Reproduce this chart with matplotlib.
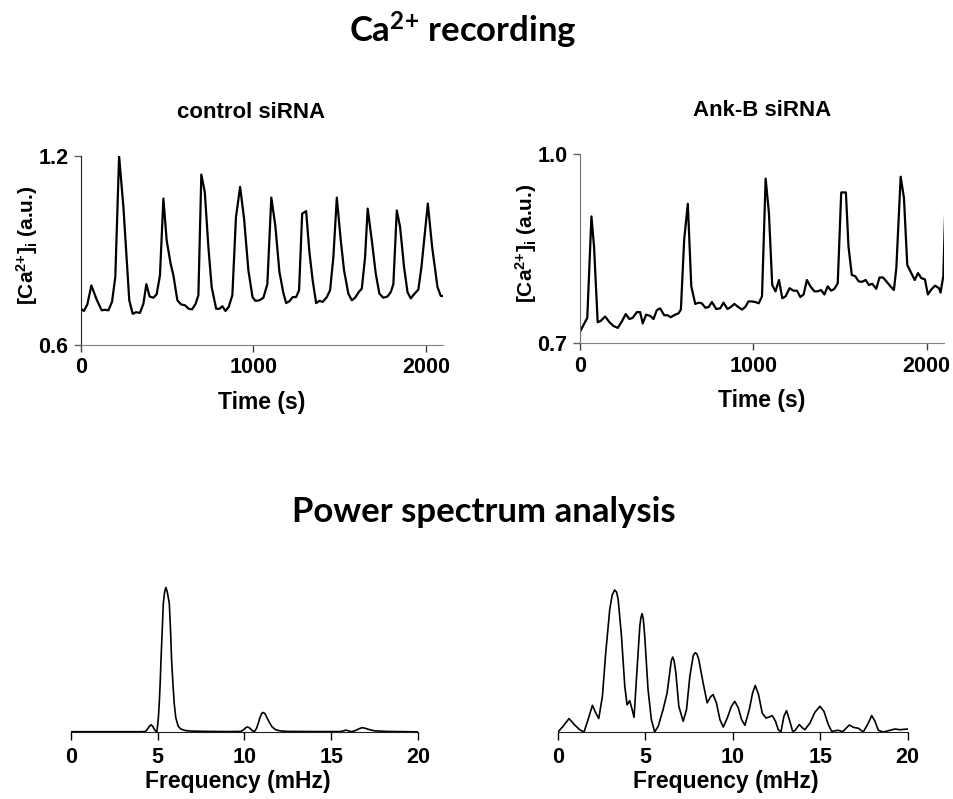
import numpy as np
import matplotlib
matplotlib.use('Agg')
import matplotlib.pyplot as plt

plt.rcParams['font.family'] = ['Liberation Sans', 'DejaVu Sans']
plt.rcParams['font.weight'] = 'bold'
plt.rcParams['mathtext.default'] = 'regular'

# control siRNA trace
ctrl_t = [0, 17, 37, 60, 91, 120, 139, 159, 180, 199, 221, 246, 280, 300, 319, 342, 362, 379, 398, 420,
          439, 458, 478, 497, 520, 536, 559, 580, 603, 625, 644, 665, 681, 698, 718, 739, 758, 784, 803, 820,
          838, 857, 878, 899, 923, 946, 971, 995, 1012, 1035, 1058, 1081, 1104, 1127, 1151, 1174, 1190, 1209,
          1228, 1248, 1265, 1283, 1306, 1325, 1344, 1364, 1383, 1402, 1426, 1445, 1464, 1484, 1507, 1526,
          1551, 1571, 1590, 1611, 1629, 1648, 1663, 1687, 1710, 1731, 1754, 1778, 1797, 1812, 1832, 1851,
          1874, 1894, 1913, 1932, 1957, 1975, 2012, 2037, 2068, 2087, 2103]
ctrl_ca = [0.715, 0.708, 0.729, 0.789, 0.744, 0.710, 0.712, 0.710, 0.737, 0.816, 1.200, 1.038, 0.742, 0.699,
           0.704, 0.702, 0.731, 0.793, 0.754, 0.750, 0.761, 0.821, 1.065, 0.932, 0.858, 0.821, 0.742, 0.729,
           0.726, 0.715, 0.713, 0.731, 0.758, 1.141, 1.086, 0.911, 0.784, 0.715, 0.715, 0.723, 0.708, 0.721,
           0.758, 1.006, 1.102, 1.001, 0.837, 0.752, 0.740, 0.742, 0.750, 0.793, 1.068, 0.980, 0.832, 0.765,
           0.733, 0.739, 0.752, 0.752, 0.774, 1.017, 1.025, 0.895, 0.805, 0.733, 0.740, 0.737, 0.752, 0.774,
           0.879, 1.068, 0.932, 0.837, 0.763, 0.742, 0.750, 0.768, 0.779, 0.879, 1.033, 0.932, 0.826, 0.763,
           0.750, 0.754, 0.768, 0.793, 1.027, 0.975, 0.848, 0.768, 0.748, 0.761, 0.776, 0.848, 1.049, 0.911,
           0.784, 0.756, 0.755]

# Ank-B siRNA trace
ank_t = [0, 42, 66, 81, 102, 119, 145, 170, 193, 218, 241, 264, 285, 304, 328, 347, 362, 381, 405, 424,
         443, 462, 486, 505, 524, 549, 568, 582, 601, 622, 642, 665, 684, 703, 723, 742, 761, 786, 809, 828,
         851, 870, 890, 909, 934, 953, 972, 990, 1012, 1031, 1050, 1071, 1090, 1109, 1128, 1148, 1167, 1186,
         1209, 1232, 1252, 1271, 1290, 1309, 1329, 1352, 1371, 1391, 1410, 1429, 1449, 1468, 1487, 1507,
         1534, 1549, 1568, 1588, 1607, 1626, 1648, 1667, 1686, 1709, 1728, 1748, 1767, 1788, 1811, 1825,
         1850, 1869, 1888, 1911, 1931, 1950, 1969, 1990, 2007, 2027, 2048, 2071, 2080, 2096, 2110]
ank_ca = [0.718, 0.740, 0.901, 0.853, 0.733, 0.735, 0.742, 0.733, 0.727, 0.724, 0.734, 0.746, 0.738, 0.740,
          0.749, 0.749, 0.731, 0.745, 0.743, 0.738, 0.752, 0.755, 0.744, 0.744, 0.741, 0.745, 0.747, 0.753,
          0.864, 0.921, 0.790, 0.762, 0.764, 0.763, 0.756, 0.757, 0.765, 0.754, 0.755, 0.764, 0.754, 0.757,
          0.762, 0.758, 0.753, 0.757, 0.766, 0.766, 0.765, 0.763, 0.774, 0.961, 0.906, 0.792, 0.782, 0.800,
          0.771, 0.774, 0.787, 0.783, 0.783, 0.773, 0.777, 0.800, 0.790, 0.782, 0.782, 0.784, 0.777, 0.790,
          0.783, 0.786, 0.795, 0.939, 0.939, 0.853, 0.808, 0.806, 0.798, 0.797, 0.800, 0.792, 0.794, 0.786,
          0.804, 0.804, 0.798, 0.791, 0.784, 0.819, 0.964, 0.930, 0.824, 0.811, 0.800, 0.811, 0.803, 0.801,
          0.777, 0.785, 0.791, 0.787, 0.780, 0.806, 0.940]

# power spectra (arbitrary units)
ctrl_f = [0, 1, 2, 3, 4, 4.28, 4.4, 4.5, 4.62, 4.72, 4.82, 4.92, 4.96, 5.0, 5.05, 5.1, 5.15, 5.2, 5.27,
          5.33, 5.41, 5.48, 5.56, 5.62, 5.68, 5.75, 5.81, 5.89, 5.96, 6.05, 6.19, 6.35, 6.6, 7, 8, 9, 9.8,
          9.95, 10.08, 10.18, 10.3, 10.45, 10.58, 10.7, 10.8, 10.9, 11.0, 11.08, 11.18, 11.3, 11.45, 11.6,
          11.8, 12.05, 12.5, 14, 15.5, 15.7, 15.85, 16.0, 16.15, 16.4, 16.6, 16.78, 16.95, 17.15, 17.5,
          18.2, 20]
ctrl_p = [0.002, 0.002, 0.002, 0.002, 0.002, 0.003, 0.015, 0.035, 0.050, 0.040, 0.018, 0.003, 0.0, 0.04,
          0.10, 0.20, 0.33, 0.50, 0.70, 0.885, 0.97, 1.0, 0.97, 0.93, 0.885, 0.70, 0.50, 0.33, 0.20, 0.10,
          0.04, 0.02, 0.01, 0.006, 0.004, 0.003, 0.004, 0.015, 0.030, 0.035, 0.028, 0.010, 0.002, 0.025,
          0.060, 0.100, 0.128, 0.135, 0.128, 0.100, 0.065, 0.035, 0.016, 0.008, 0.004, 0.003, 0.003, 0.008,
          0.013, 0.008, 0.002, 0.010, 0.022, 0.030, 0.026, 0.018, 0.008, 0.004, 0.001]

ank_f = [0, 0.29, 0.63, 0.95, 1.24, 1.49, 1.72, 1.97, 2.16, 2.33, 2.54, 2.73, 2.96, 3.1, 3.24, 3.35, 3.44,
         3.63, 3.82, 3.95, 4.1, 4.24, 4.35, 4.52, 4.68, 4.74, 4.81, 4.88, 4.96, 5.15, 5.34, 5.53, 5.73, 6.01,
         6.24, 6.39, 6.48, 6.56, 6.64, 6.74, 6.91, 7.16, 7.35, 7.54, 7.73, 7.8, 7.86, 7.95, 8.05, 8.3, 8.53,
         8.72, 8.87, 9.06, 9.26, 9.45, 9.68, 9.92, 10.11, 10.31, 10.5, 10.69, 10.94, 11.13, 11.28, 11.47,
         11.68, 11.89, 12.08, 12.25, 12.44, 12.6, 12.75, 12.92, 13.07, 13.23, 13.42, 13.55, 13.8, 13.99,
         14.12, 14.41, 14.69, 14.98, 15.21, 15.46, 15.65, 16.03, 16.28, 16.66, 16.89, 17.18, 17.46, 17.75,
         17.94, 18.13, 18.32, 18.6, 18.99, 19.27, 19.56, 20]
ank_p = [0.0, 0.040, 0.094, 0.050, 0.016, 0.0, 0.087, 0.187, 0.133, 0.094, 0.250, 0.555, 0.860, 0.960,
         0.995, 0.980, 0.930, 0.672, 0.320, 0.190, 0.220, 0.157, 0.103, 0.438, 0.742, 0.800, 0.829, 0.790,
         0.672, 0.297, 0.087, 0.0, 0.040, 0.157, 0.274, 0.415, 0.500, 0.525, 0.500, 0.415, 0.180, 0.075,
         0.157, 0.390, 0.532, 0.550, 0.555, 0.545, 0.508, 0.344, 0.204, 0.246, 0.262, 0.204, 0.087, 0.035,
         0.098, 0.180, 0.215, 0.169, 0.087, 0.047, 0.157, 0.274, 0.326, 0.262, 0.133, 0.098, 0.105, 0.115,
         0.075, 0.016, 0.0, 0.110, 0.150, 0.087, 0.005, 0.010, 0.052, 0.028, 0.016, 0.063, 0.138, 0.180,
         0.145, 0.052, 0.005, 0.012, 0.002, 0.049, 0.033, 0.026, 0.0, 0.063, 0.115, 0.075, 0.012, 0.0, 0.012,
         0.021, 0.016, 0.021]

W, H = 954, 799
fig = plt.figure(figsize=(W / 100, H / 100), dpi=100)


def px_axes(x0, x1, ytop, ybot):
    return fig.add_axes([x0 / W, 1 - ybot / H, (x1 - x0) / W, (ybot - ytop) / H])


def trace_panel(ax, t, ca, ylim, title, left_col):
    ax.plot(t, ca, color='black', lw=1.6)
    ax.set_xlim(0, 2100)
    ax.set_ylim(*ylim)
    ax.set_xticks([0, 1000, 2000])
    ax.set_yticks(list(ylim))
    ax.set_yticklabels(['%.1f' % v for v in ylim])
    for s in ['top', 'right']:
        ax.spines[s].set_visible(False)
    ax.spines['left'].set_color(left_col)
    ax.spines['bottom'].set_color('#808080')
    ax.tick_params(axis='both', direction='out', length=5, width=1, labelsize=15.5, pad=4)
    ax.tick_params(axis='x', colors='#404040', labelcolor='black')
    ax.tick_params(axis='y', colors='#606060', labelcolor='black')
    ax.set_xlabel('Time (s)', fontsize=16.5, fontweight='bold', labelpad=9)
    ax.set_ylabel('[Ca$^{2{+}}$]$_{i}$ (a.u.)', fontsize=15, fontweight='bold')
    ax.yaxis.set_label_coords(-0.114, 0.53)
    ax.set_title(title, fontsize=16, fontweight='bold', pad=27)


ax1 = px_axes(81, 443, 156, 345)
trace_panel(ax1, ctrl_t, ctrl_ca, (0.6, 1.2), 'control siRNA', '#202020')
ax1.title.set_position((0.47, 1.0))
ax2 = px_axes(580, 944, 154, 343)
trace_panel(ax2, ank_t, ank_ca, (0.7, 1.0), 'Ank-B siRNA', '#707070')


def spectrum_panel(ax, f, p):
    ax.plot(f, p, color='black', lw=1.2)
    ax.set_xlim(0, 20)
    ax.set_ylim(0, 1.1)
    ax.set_xticks([0, 5, 10, 15, 20])
    ax.set_yticks([])
    for s in ['top', 'right', 'left']:
        ax.spines[s].set_visible(False)
    ax.spines['bottom'].set_color('#202020')
    ax.tick_params(axis='x', direction='out', length=6, width=1, labelsize=15.5, pad=5)
    ax.set_xlabel('Frequency (mHz)', fontsize=16.5, fontweight='bold', labelpad=1)
    ax.xaxis.label.set_x(0.48)


ax3 = px_axes(70.7, 418, 573, 732)
spectrum_panel(ax3, ctrl_f, ctrl_p)
ax4 = px_axes(558, 907.7, 575, 732)
spectrum_panel(ax4, ank_f, ank_p)

fig.text(463 / W, 1 - 30 / H, 'Ca$^{2{+}}$ recording', family=['Lato', 'DejaVu Sans'],
         fontweight='bold', fontsize=25, ha='center', va='center')
fig.text(484 / W, 1 - 512 / H, 'Power spectrum analysis', family=['Lato', 'DejaVu Sans'],
         fontweight='bold', fontsize=25, ha='center', va='center')

fig.savefig('out.png', dpi=100)
